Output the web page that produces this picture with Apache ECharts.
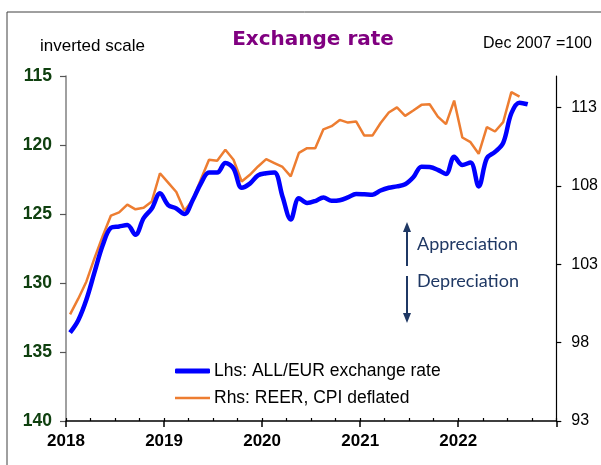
<!DOCTYPE html>
<html>
<head>
<meta charset="utf-8">
<script src="https://cdn.jsdelivr.net/npm/echarts@6/dist/echarts.min.js"></script>
<style>
  html, body { margin: 0; padding: 0; background: #fff; }
  #chart { width: 601px; height: 465px; }
</style>
</head>
<body>
<div id="chart"></div>
<script>
// monthly data, Jan 2018 onward (plotted mid-month)
var startYear = 2018;
var yearTicks = [2018, 2019, 2020, 2021, 2022];
var leftTicks = [115, 120, 125, 130, 135, 140];
var rightTicks = [93, 98, 103, 108, 113];

// Lhs: ALL/EUR exchange rate (inverted scale)
var allEur = [133.6, 132.7, 131.2, 129.2, 127.25, 126.0, 125.9, 125.8, 126.5, 125.3, 124.6, 123.5,
    124.35, 124.6, 125.0, 124.0, 122.8, 122.0, 122.0, 121.3, 121.7, 123.1, 122.8, 122.2,
    122.05, 122.0, 123.75, 125.4, 123.86, 124.2, 124.06, 123.8, 124.04, 124.0, 123.8, 123.55,
    123.57, 123.6, 123.3, 123.1, 123.0, 122.85, 122.34, 121.57, 121.6, 121.8, 122.1, 120.85,
    121.45, 121.27, 123.0, 120.96, 120.5, 119.85, 117.7, 116.93, 117.05];

// Rhs: REER, CPI deflated (Dec 2007 = 100)
var reer = [99.8, 100.8, 101.9, 103.4, 104.8, 106.1, 106.3, 106.8, 106.5, 106.6, 107.0, 108.8,
    108.2, 107.6, 106.4, 107.1, 108.4, 109.66, 109.6, 110.3, 109.66, 108.27, 108.7, 109.23,
    109.7, 109.45, 109.2, 108.6, 110.1, 110.4, 110.4, 111.6, 111.8, 112.2, 112.03, 112.1,
    111.2, 111.2, 112.0, 112.67, 113.0, 112.46, 112.8, 113.16, 113.2, 112.41, 111.93, 113.43,
    111.08, 110.78, 110.04, 111.74, 111.46, 112.06, 113.97, 113.69];

function toPoints(arr) {
    return arr.map(function (v, i) { return [startYear + (i + 0.5) / 12, v]; });
}

var navy = '#1f3864';
var myChart = echarts.init(document.getElementById('chart'));
option = {
    animation: false,
    backgroundColor: '#fff',
    title: {
        text: 'Exchange rate',
        left: 308, top: 25, textAlign: 'center',
        textStyle: { color: '#800080', fontFamily: 'DejaVu Sans', fontWeight: 'bold', fontSize: 20 }
    },
    grid: { left: 66, right: 44, top: 76, bottom: 44 },
    legend: [{
        data: ['Lhs: ALL/EUR exchange rate'],
        left: 170, top: 357, icon: 'roundRect', itemWidth: 35, itemHeight: 5, itemGap: 4,
        textStyle: { fontFamily: 'Liberation Sans', fontSize: 17.5, color: '#000', padding: [0, 0, 0, -1] }
    }, {
        data: ['Rhs: REER, CPI deflated'],
        left: 170, top: 384, icon: 'rect', itemWidth: 35, itemHeight: 2.5, itemGap: 4,
        textStyle: { fontFamily: 'Liberation Sans', fontSize: 17.5, color: '#000', padding: [0, 0, 0, -1] }
    }],
    xAxis: [{
        type: 'value', min: 2018, max: 2023, interval: 1,
        axisLine: { lineStyle: { color: '#000', width: 1.5 } },
        axisTick: { length: 6, lineStyle: { color: '#000', width: 1.5 } },
        axisLabel: {
            customValues: yearTicks, margin: 12,
            fontFamily: 'Liberation Sans', fontWeight: 'bold', fontSize: 17, color: '#000',
            formatter: function (v) { return String(v); }
        },
        splitLine: { show: false }
    }, {
        type: 'value', min: 2018, max: 2023, interval: 0.25, position: 'bottom',
        axisLine: { show: false },
        axisTick: { inside: true, length: 3, lineStyle: { color: '#000', width: 1.2 } },
        axisLabel: { show: false },
        splitLine: { show: false }
    }],
    yAxis: [{
        type: 'value', inverse: true, min: 115, max: 140, interval: 5,
        axisLine: { show: true, lineStyle: { color: '#808080', width: 1.5 } },
        axisTick: { show: true, length: 6, lineStyle: { color: '#555', width: 1.2 } },
        axisLabel: {
            margin: 14, fontFamily: 'Liberation Sans', fontWeight: 'bold', fontSize: 17.5, color: '#0f400f'
        },
        splitLine: { show: false }
    }, {
        type: 'value', min: 93, max: 115, position: 'right',
        axisLine: { show: true, lineStyle: { color: '#000', width: 1.2 } },
        axisTick: { show: true, customValues: rightTicks, length: 5, lineStyle: { color: '#000', width: 1.2 } },
        axisLabel: {
            customValues: rightTicks, margin: 15,
            fontFamily: 'Liberation Sans', fontSize: 16, color: '#000'
        },
        splitLine: { show: false }
    }],
    series: [{
        name: 'Rhs: REER, CPI deflated',
        type: 'line', yAxisIndex: 1,
        data: toPoints(reer),
        showSymbol: false,
        lineStyle: { color: '#ed7d31', width: 2.5 },
        itemStyle: { color: '#ed7d31' }
    }, {
        name: 'Lhs: ALL/EUR exchange rate',
        type: 'line', yAxisIndex: 0,
        data: toPoints(allEur),
        showSymbol: false, smooth: 0.35,
        lineStyle: { color: '#0000ff', width: 4.5 },
        itemStyle: { color: '#0000ff' }
    }],
    graphic: [
        { type: 'rect', shape: { x: 7, y: 12, width: 700, height: 600 },
          style: { fill: null, stroke: '#404040', lineWidth: 1 }, silent: true },
        { type: 'text', left: 40, top: 38,
          style: { text: 'inverted scale', font: '17px "Liberation Sans"', fill: '#000' } },
        { type: 'text', left: 483, top: 36,
          style: { text: 'Dec 2007 =100', font: '16px "Liberation Sans"', fill: '#000' } },
        // appreciation / depreciation arrows
        { type: 'line', shape: { x1: 407, y1: 230, x2: 407, y2: 266 }, style: { stroke: navy, lineWidth: 2 } },
        { type: 'polygon', shape: { points: [[407, 222], [403, 232], [411, 232]] }, style: { fill: navy } },
        { type: 'line', shape: { x1: 407, y1: 276, x2: 407, y2: 314 }, style: { stroke: navy, lineWidth: 2 } },
        { type: 'polygon', shape: { points: [[407, 323], [403, 313], [411, 313]] }, style: { fill: navy } },
        { type: 'text', left: 417, top: 235,
          style: { text: 'Appreciation', font: '18px Lato', fill: navy } },
        { type: 'text', left: 417, top: 272,
          style: { text: 'Depreciation', font: '18px Lato', fill: navy } }
    ]
};
myChart.setOption(option);
</script>
</body>
</html>
